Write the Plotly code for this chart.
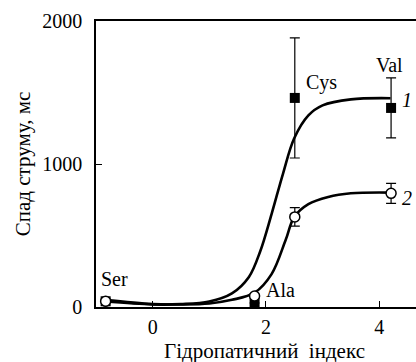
import plotly.graph_objects as go

# curve 1 (fitted)
c1_x = [-0.85, 0.0, 0.5, 1.0, 1.4, 1.7, 1.9, 2.1, 2.3, 2.5, 2.75, 3.0, 3.5, 4.2]
c1_y = [40, 18, 20, 38, 95, 210, 390, 650, 930, 1180, 1340, 1410, 1452, 1460]
# curve 2
c2_x = [-0.85, 0.0, 0.5, 1.0, 1.4, 1.8, 2.1, 2.35, 2.5, 2.75, 3.1, 3.5, 4.2]
c2_y = [50, 20, 18, 25, 50, 100, 230, 470, 630, 720, 770, 795, 800]

# data points
amino = ["Ser", "Ala", "Cys", "Val"]
sq_x = [-0.83, 1.8, 2.51, 4.21]
sq_y = [40, 28, 1462, 1392]
sq_err = [0, 0, 420, 210]
ci_x = [-0.83, 1.8, 2.51, 4.21]
ci_y = [40, 77, 630, 795]
ci_err = [0, 0, 65, 70]

lab_x = [-0.67, 2.25, 2.99, 4.19]
lab_y = [196, 119, 1573, 1695]

FONT = "Liberation Serif"
FS = 20

fig = go.Figure()
fig.add_trace(go.Scatter(x=c1_x, y=c1_y, mode="lines", line=dict(color="black", width=2.6, shape="spline"), hoverinfo="skip"))
fig.add_trace(go.Scatter(x=c2_x, y=c2_y, mode="lines", line=dict(color="black", width=2.6, shape="spline"), hoverinfo="skip"))
fig.add_trace(go.Scatter(x=sq_x, y=sq_y, mode="markers",
                         marker=dict(symbol="square", size=10, color="black"),
                         error_y=dict(type="data", array=sq_err, color="black", thickness=1.2, width=5)))
fig.add_trace(go.Scatter(x=ci_x, y=ci_y, mode="markers",
                         marker=dict(symbol="circle", size=10, color="white", line=dict(color="black", width=1.5)),
                         error_y=dict(type="data", array=ci_err, color="black", thickness=1.2, width=5)))

for t, lx, ly in zip(amino, lab_x, lab_y):
    fig.add_annotation(x=lx, y=ly, text=t, showarrow=False, font=dict(family=FONT, size=FS, color="black"))
fig.add_annotation(x=4.49, y=1447, text="<i>1</i>", showarrow=False, font=dict(family=FONT, size=FS, color="black"))
fig.add_annotation(x=4.49, y=762, text="<i>2</i>", showarrow=False, font=dict(family=FONT, size=FS, color="black"))
fig.add_annotation(xref="x domain", yref="y domain", x=(264 - 96) / 320, y=-(351 - 307) / 286,
                   xanchor="center", yanchor="middle",
                   text="Гідропатичний  індекс", showarrow=False,
                   font=dict(family=FONT, size=21, color="black"))

fig.update_layout(
    width=416, height=362,
    margin=dict(l=96, r=0, t=21, b=55),
    paper_bgcolor="white", plot_bgcolor="white",
    showlegend=False,
    font=dict(family=FONT, size=FS, color="black"),
    xaxis=dict(range=[-1.0, 4.65], tickvals=[0, 2, 4], ticks="inside", ticklen=6, tickcolor="black",
               showline=True, linecolor="black", linewidth=1.5, mirror=True, showgrid=False, zeroline=False,
               automargin=False, ticklabelstandoff=1),
    yaxis=dict(range=[0, 2000], tickvals=[0, 1000, 2000], ticks="inside", ticklen=6, tickcolor="black",
               showline=True, linecolor="black", linewidth=1.5, showgrid=False, zeroline=False,
               automargin=False, ticklabelstandoff=8,
               title=dict(text="Спад струму, мс", standoff=6, font=dict(size=21))),
)
fig.write_html("out.html", config={"displayModeBar": False},
               post_script="document.body.style.margin='0';")
